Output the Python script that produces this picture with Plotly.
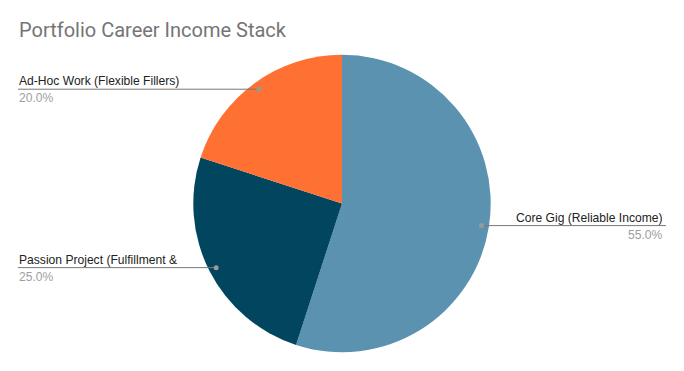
import math
import plotly.graph_objects as go

# ---- data ----
categories = ["Core Gig (Reliable Income)", "Passion Project (Fulfillment &", "Ad-Hoc Work (Flexible Fillers)"]
shares = [55.0, 25.0, 20.0]
colors = ["#5a92b0", "#01455f", "#ff7033"]
title_text = "Portfolio Career Income Stack"

# ---- layout geometry (pixels) ----
W, H = 684, 371
cx, cy, R = 342.0, 203.5, 148.7
dot_r_frac = 0.95
left_x, right_x = 18, 666

def px(x):
    return x / W

def py(y):
    return 1 - y / H

fig = go.Figure()
fig.add_trace(go.Pie(
    labels=categories,
    values=shares,
    sort=False,
    direction="clockwise",
    rotation=0,
    marker=dict(colors=colors, line=dict(width=0)),
    textinfo="none",
    hoverinfo="label+percent",
    showlegend=False,
    domain=dict(x=[px(cx - R), px(cx + R)], y=[py(cy + R), py(cy - R)]),
))

label_font = "Arial, Liberation Sans, sans-serif"
shapes = []
annotations = []
total = sum(shares)
cum = 0.0
for name, val in zip(categories, shares):
    mid = (cum + val / 2) / total * 2 * math.pi
    cum += val
    dx = math.sin(mid) * R * dot_r_frac
    dy = -math.cos(mid) * R * dot_r_frac
    dot_x, dot_y = cx + dx, cy + dy
    on_right = dx > 0
    end_x = right_x if on_right else left_x
    shapes.append(dict(type="line", xref="paper", yref="paper",
                       x0=px(dot_x), x1=px(end_x), y0=py(dot_y), y1=py(dot_y),
                       line=dict(color="#777777", width=1)))
    shapes.append(dict(type="circle", xref="paper", yref="paper",
                       xsizemode="pixel", ysizemode="pixel",
                       xanchor=px(dot_x), yanchor=py(dot_y),
                       x0=-2.5, x1=2.5, y0=-2.5, y1=2.5,
                       fillcolor="#999999", line=dict(width=0)))
    anchor = "right" if on_right else "left"
    annotations.append(dict(x=px(end_x), y=py(dot_y), xref="paper", yref="paper",
                            text=name, showarrow=False, xanchor=anchor, yanchor="bottom",
                            xshift=-1, yshift=-1,
                            font=dict(family=label_font, size=12.1, color="#222222")))
    annotations.append(dict(x=px(end_x), y=py(dot_y), xref="paper", yref="paper",
                            text=f"{val / total * 100:.1f}%", showarrow=False, xanchor=anchor, yanchor="top",
                            xshift=-1, yshift=0,
                            font=dict(family=label_font, size=12.1, color="#9e9e9e")))

annotations.append(dict(x=px(17), y=py(16), xref="paper", yref="paper", text=title_text,
                        showarrow=False, xanchor="left", yanchor="top",
                        font=dict(family="Roboto, Arial", size=20, color="#757575")))

fig.update_layout(
    width=W, height=H,
    margin=dict(l=0, r=0, t=0, b=0),
    paper_bgcolor="white",
    plot_bgcolor="white",
    shapes=shapes,
    annotations=annotations,
)

fig.write_html("out.html", config={"displayModeBar": False},
               post_script="document.body.style.margin='0';")
